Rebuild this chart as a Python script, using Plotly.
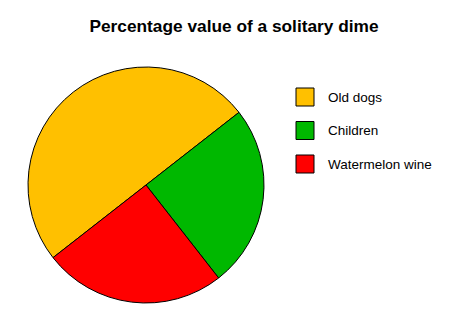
import plotly.graph_objects as go

labels = ["Old dogs", "Children", "Watermelon wine"]
values = [50, 25, 25]
colors = ["#FFC000", "#00B800", "#FF0000"]
title_text = "Percentage value of a solitary dime"

W, H = 468, 329

fig = go.Figure(go.Pie(
    labels=labels, values=values, sort=False, direction="clockwise",
    rotation=232, textinfo="none", hoverinfo="label+percent",
    marker=dict(colors=colors, line=dict(color="#000000", width=1)),
    domain=dict(x=[28 / W, 264 / W], y=[1 - 303 / H, 1 - 67 / H]),
    showlegend=False,
))

# custom legend built from labels/colors
sw_x0, sw_size, first_top, step = 296, 18, 88, 33.5
shapes, annos = [], []
for i, (lab, col) in enumerate(zip(labels, colors)):
    top = first_top + i * step
    shapes.append(dict(type="rect", xref="paper", yref="paper",
                       x0=sw_x0 / W, x1=(sw_x0 + sw_size) / W,
                       y0=1 - (top + sw_size) / H, y1=1 - top / H,
                       fillcolor=col, line=dict(color="#000000", width=1)))
    annos.append(dict(xref="paper", yref="paper", x=326 / W, y=1 - (top + sw_size / 2) / H,
                      xanchor="left", yanchor="middle", showarrow=False, text=lab,
                      font=dict(family="Liberation Sans, Arial", size=13.5, color="#000000")))

fig.update_layout(
    width=W, height=H, margin=dict(l=0, r=0, t=0, b=0),
    paper_bgcolor="white", plot_bgcolor="white",
    title=dict(text="<b>" + title_text + "</b>", x=0.5, xanchor="center",
               y=1 - 26 / H, yanchor="middle",
               font=dict(family="Liberation Sans, Arial", size=17.3, color="#000000")),
    shapes=shapes, annotations=annos,
)

fig.write_html("out.html")
